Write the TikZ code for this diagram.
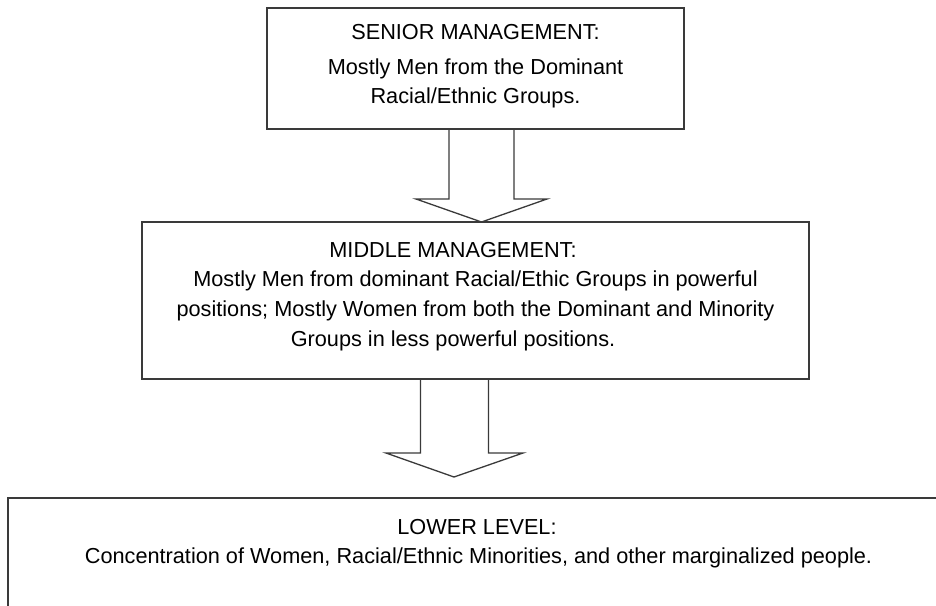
\documentclass[tikz,border=0pt]{standalone}
\usepackage{fontspec}
\setmainfont{Liberation Sans}
\usetikzlibrary{calc}

\definecolor{edge}{HTML}{3A3A3A}

\tikzset{
  box/.style={draw=edge, line width=1.3pt, rectangle, inner sep=0pt, outer sep=0pt},
  caption/.style={anchor=base, inner sep=0pt, text=black,
                  font=\fontsize{21.7}{29}\selectfont},
  blockarrow/.style={draw=edge, line width=1.3pt, line join=miter}
}

\begin{document}
\begin{tikzpicture}[x=1pt, y=-1pt]
  \useasboundingbox (0,0) rectangle (936,605);
  \clip (0,0) rectangle (936,605);

  % the three levels
  \node[box, minimum width=417pt, minimum height=121pt] (senior) at (475.5,68.5) {};
  \node[box, minimum width=667pt, minimum height=157pt] (middle) at (475.5,300.5) {};
  \node[box, minimum width=942pt, minimum height=122pt] (lower)  at (479,559) {};

  % senior management text
  \node[caption] (seniorhead) at (475.5,39) {SENIOR MANAGEMENT:};
  \node[caption] (seniorl1)   at (475.5,74) {Mostly Men from the Dominant};
  \node[caption] (seniorl2)   at (475.5,103) {Racial/Ethnic Groups.};

  % middle management text
  \node[caption] (middlehead) at (453,257) {MIDDLE MANAGEMENT:};
  \node[caption] (middlel1)   at (475.5,286) {Mostly Men from dominant Racial/Ethic Groups in powerful};
  \node[caption] (middlel2)   at (475.5,316) {positions; Mostly Women from both the Dominant and Minority};
  \node[caption] (middlel3)   at (453,346) {Groups in less powerful positions.};

  % lower level text
  \node[caption] (lowerhead) at (477,534) {LOWER LEVEL:};
  \node[caption] (lowerl1)   at (478.5,563) {Concentration of Women, Racial/Ethnic Minorities, and other marginalized people.};

  % block arrow: senior -> middle
  \coordinate (a1) at ($(senior.south)+(6,0)$);
  \draw[blockarrow] ($(a1)+(-32.5,0)$) -- ($(a1)+(-32.5,70)$) -- ($(a1)+(-65.5,70)$)
    -- ($(middle.north)+(6,0)$)
    -- ($(a1)+(65.5,70)$) -- ($(a1)+(32.5,70)$) -- ($(a1)+(32.5,0)$);

  % block arrow: middle -> lower
  \coordinate (a2) at ($(middle.south)+(-21,0)$);
  \coordinate (t2) at ($(lower.north)+(-25,-21)$);
  \draw[blockarrow] ($(a2)+(-34,0)$) -- ($(a2)+(-34,74)$) -- ($(a2)+(-68.5,74)$)
    -- (t2)
    -- ($(a2)+(68.5,74)$) -- ($(a2)+(34,74)$) -- ($(a2)+(34,0)$);
\end{tikzpicture}
\end{document}
